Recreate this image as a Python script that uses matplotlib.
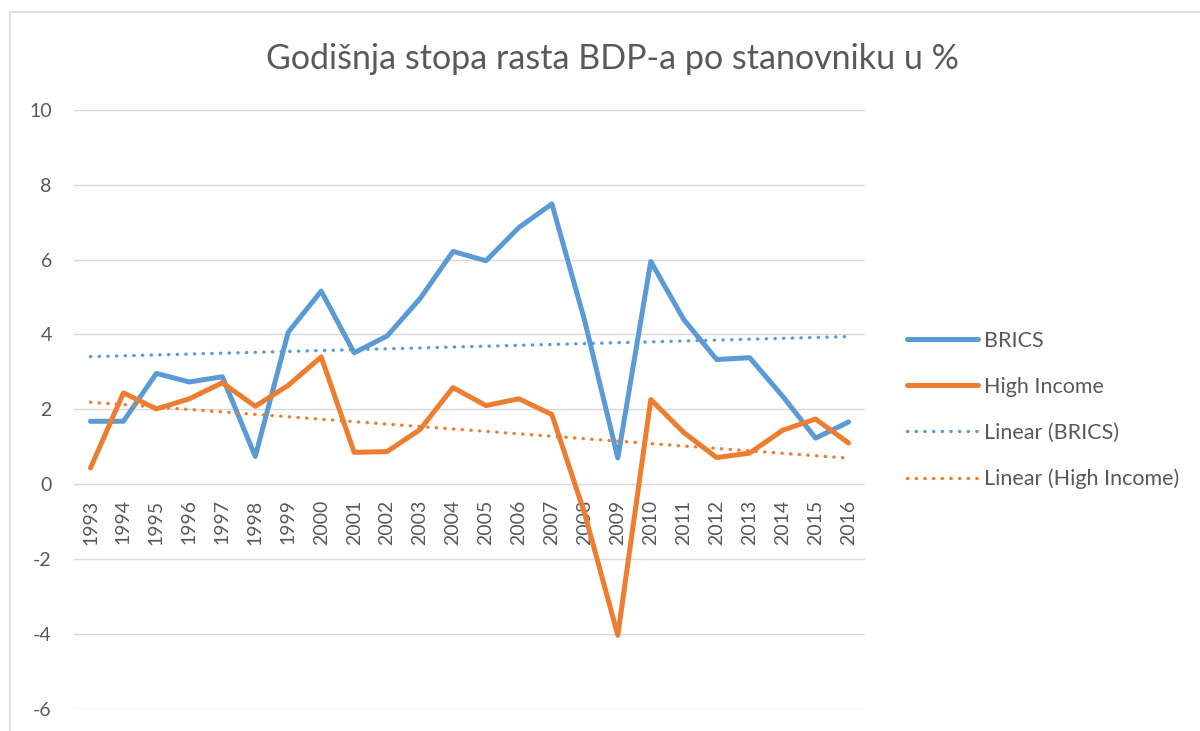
import numpy as np
import matplotlib
matplotlib.use('Agg')
import matplotlib.pyplot as plt
from matplotlib.lines import Line2D

# data
years = [str(y) for y in range(1993, 2017)]
brics = [1.68, 1.68, 2.96, 2.73, 2.87, 0.74, 4.06, 5.16, 3.51, 3.96, 4.96, 6.22,
         5.97, 6.86, 7.49, 4.35, 0.70, 5.95, 4.40, 3.33, 3.38, 2.35, 1.23, 1.66]
high_income = [0.43, 2.44, 2.01, 2.28, 2.71, 2.08, 2.64, 3.40, 0.85, 0.87, 1.46, 2.58,
               2.10, 2.28, 1.86, -0.80, -4.04, 2.26, 1.38, 0.71, 0.83, 1.44, 1.74, 1.10]
yticks = [-6, -4, -2, 0, 2, 4, 6, 8, 10]

blue = '#5B9BD5'
orange = '#ED7D31'
grey_txt = '#595959'
grid_col = '#D9D9D9'

plt.rcParams['font.family'] = ['Lato', 'DejaVu Sans']

fig = plt.figure(figsize=(12, 7.31), dpi=100)
ax = fig.add_axes([74/1200, 1 - 708.6/731, 791/1200, (708.6 - 110)/731])

x = np.arange(len(years))

# linear trendlines like excel's
fit_b = np.polyfit(x, brics, 1)
fit_h = np.polyfit(x, high_income, 1)

ax.plot(x, brics, color=blue, lw=3.6, solid_joinstyle='round', solid_capstyle='round',
        label='BRICS', zorder=3)
ax.plot(x, high_income, color=orange, lw=3.6, solid_joinstyle='round', solid_capstyle='round',
        label='High Income', zorder=3)
ax.plot(x, np.polyval(fit_b, x), color=blue, lw=2.4, dashes=(0.1, 2.5),
        dash_capstyle='round', label='Linear (BRICS)', zorder=4)
ax.plot(x, np.polyval(fit_h, x), color=orange, lw=2.4, dashes=(0.1, 2.5),
        dash_capstyle='round', label='Linear (High Income)', zorder=4)

ax.set_xlim(-0.5, len(years) - 0.5)
ax.set_ylim(-6, 10)

for s in ['top', 'right', 'left']:
    ax.spines[s].set_visible(False)
# x labels sit under the zero line, as in excel
ax.spines['bottom'].set_position(('data', 0))
ax.spines['bottom'].set_color('none')

ax.set_yticks(yticks)
ax.set_yticklabels([str(v) for v in yticks])
ax.set_xticks(x)
ax.set_xticklabels(years)

ax.grid(axis='y', color=grid_col, lw=1.0, zorder=0)
ax.set_axisbelow(True)

ax.tick_params(axis='y', length=0, pad=16, labelsize=14, labelcolor=grey_txt)
ax.tick_params(axis='x', length=0, pad=11, labelsize=14, labelcolor=grey_txt,
               labelrotation=90)

fig.text(612/1200, 1 - 59/731, 'Godišnja stopa rasta BDP-a po stanovniku u %',
         ha='center', va='center', fontsize=24.5, color=grey_txt)

leg = fig.legend(loc='center left', bbox_to_anchor=(888/1200, 1 - 410/731),
                 frameon=False, fontsize=15.5, handlelength=3.3, handletextpad=0.25,
                 labelspacing=1.2)
for t in leg.get_texts():
    t.set_color(grey_txt)

# chart area border
fig.add_artist(Line2D([10/1200, 10/1200, 1], [0, 1 - 12/731, 1 - 12/731],
                      transform=fig.transFigure, color=grid_col, lw=1.2))

fig.savefig('out.png', dpi=100)
